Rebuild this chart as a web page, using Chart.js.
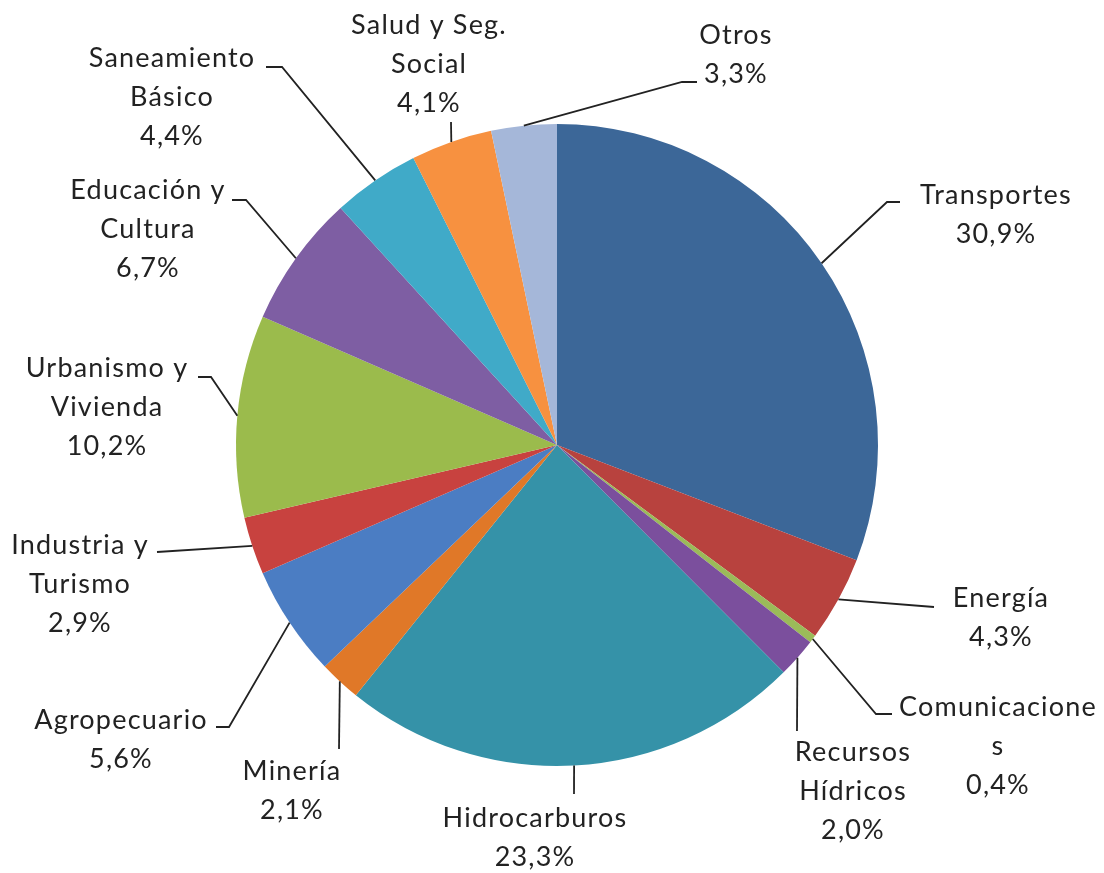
<!DOCTYPE html>
<html>
<head>
<meta charset="utf-8">
<script src="https://cdn.jsdelivr.net/npm/chart.js@4/dist/chart.umd.min.js"></script>
<style>
  html, body { margin: 0; padding: 0; background: #ffffff; }
  #wrap { width: 1104px; height: 873px; position: relative; }
</style>
</head>
<body>
<div id="wrap"><canvas id="c" width="1104" height="873"></canvas></div>
<script>
// ---- data ----
const categories = ["Transportes", "Energía", "Comunicaciones", "Recursos Hídricos", "Hidrocarburos",
  "Minería", "Agropecuario", "Industria y Turismo", "Urbanismo y Vivienda", "Educación y Cultura",
  "Saneamiento Básico", "Salud y Seg. Social", "Otros"];
const values = [30.9, 4.3, 0.4, 2.0, 23.3, 2.1, 5.6, 2.9, 10.2, 6.7, 4.4, 4.1, 3.3];
const labelLines = [["Transportes"], ["Energía"], ["Comunicacione", "s"], ["Recursos", "Hídricos"],
  ["Hidrocarburos"], ["Minería"], ["Agropecuario"], ["Industria y", "Turismo"], ["Urbanismo y", "Vivienda"],
  ["Educación y", "Cultura"], ["Saneamiento", "Básico"], ["Salud y Seg.", "Social"], ["Otros"]];
const colors = ["#3C6798", "#B8423E", "#9BBB59", "#7B4F9D", "#3592A8", "#E07828", "#4B7DC3",
  "#C8423F", "#9BBB4C", "#7E5EA3", "#40AAC8", "#F79140", "#A5B7D9"];

// ---- label placement (text centre x, first-line centre y, leader points from label toward slice) ----
const labelLayout = [
  { cx: 996, cy: 195, pts: [[900, 202], [887, 202]] },
  { cx: 1001, cy: 598, pts: [[934, 607]] },
  { cx: 998, cy: 707, pts: [[892, 714], [876, 714]] },
  { cx: 853, cy: 752, pts: [[797, 731]] },
  { cx: 535, cy: 818, pts: [[574, 794]] },
  { cx: 292, cy: 771, pts: [[339, 749]] },
  { cx: 121, cy: 720, pts: [[216, 727], [229, 727]] },
  { cx: 80, cy: 545, pts: [[157, 552]] },
  { cx: 107, cy: 368, pts: [[198, 377], [211, 377]] },
  { cx: 148, cy: 190, pts: [[232, 200], [246, 200]] },
  { cx: 172, cy: 58, pts: [[266, 67], [282, 67]] },
  { cx: 429, cy: 25, pts: [[451, 122]] },
  { cx: 736, cy: 35, pts: [[697, 82], [682, 82]] }
];
const lineGap = 39;

function fmtPct(v) { return v.toFixed(1).replace('.', ',') + '%'; }

const leaderLabels = {
  id: 'leaderLabels',
  afterDraw(chart) {
    const ctx = chart.ctx;
    const meta = chart.getDatasetMeta(0);
    ctx.save();
    meta.data.forEach((arc, i) => {
      const p = arc.getProps(['x', 'y', 'startAngle', 'endAngle', 'outerRadius'], true);
      const a = (p.startAngle + p.endAngle) / 2;
      const ax = p.x + Math.cos(a) * p.outerRadius;
      const ay = p.y + Math.sin(a) * p.outerRadius;
      const L = labelLayout[i];
      ctx.beginPath();
      ctx.strokeStyle = '#222222';
      ctx.lineWidth = 1.8;
      ctx.moveTo(L.pts[0][0], L.pts[0][1]);
      for (let k = 1; k < L.pts.length; k++) ctx.lineTo(L.pts[k][0], L.pts[k][1]);
      ctx.lineTo(ax, ay);
      ctx.stroke();

      const lines = labelLines[i].concat([fmtPct(values[i])]);
      ctx.fillStyle = '#222222';
      ctx.font = '27px Lato';
      try { ctx.letterSpacing = '1.2px'; } catch (e) {}
      ctx.textAlign = 'center';
      ctx.textBaseline = 'middle';
      lines.forEach((t, j) => ctx.fillText(t, L.cx, L.cy + j * lineGap));
    });
    ctx.restore();
  }
};

new Chart(document.getElementById('c'), {
  type: 'pie',
  data: {
    labels: categories,
    datasets: [{ data: values, backgroundColor: colors, borderWidth: 0 }]
  },
  options: {
    responsive: false,
    animation: false,
    layout: { padding: { left: 236, right: 226, top: 124, bottom: 107 } },
    plugins: { legend: { display: false }, tooltip: { enabled: false } }
  },
  plugins: [leaderLabels]
});
</script>
</body>
</html>
